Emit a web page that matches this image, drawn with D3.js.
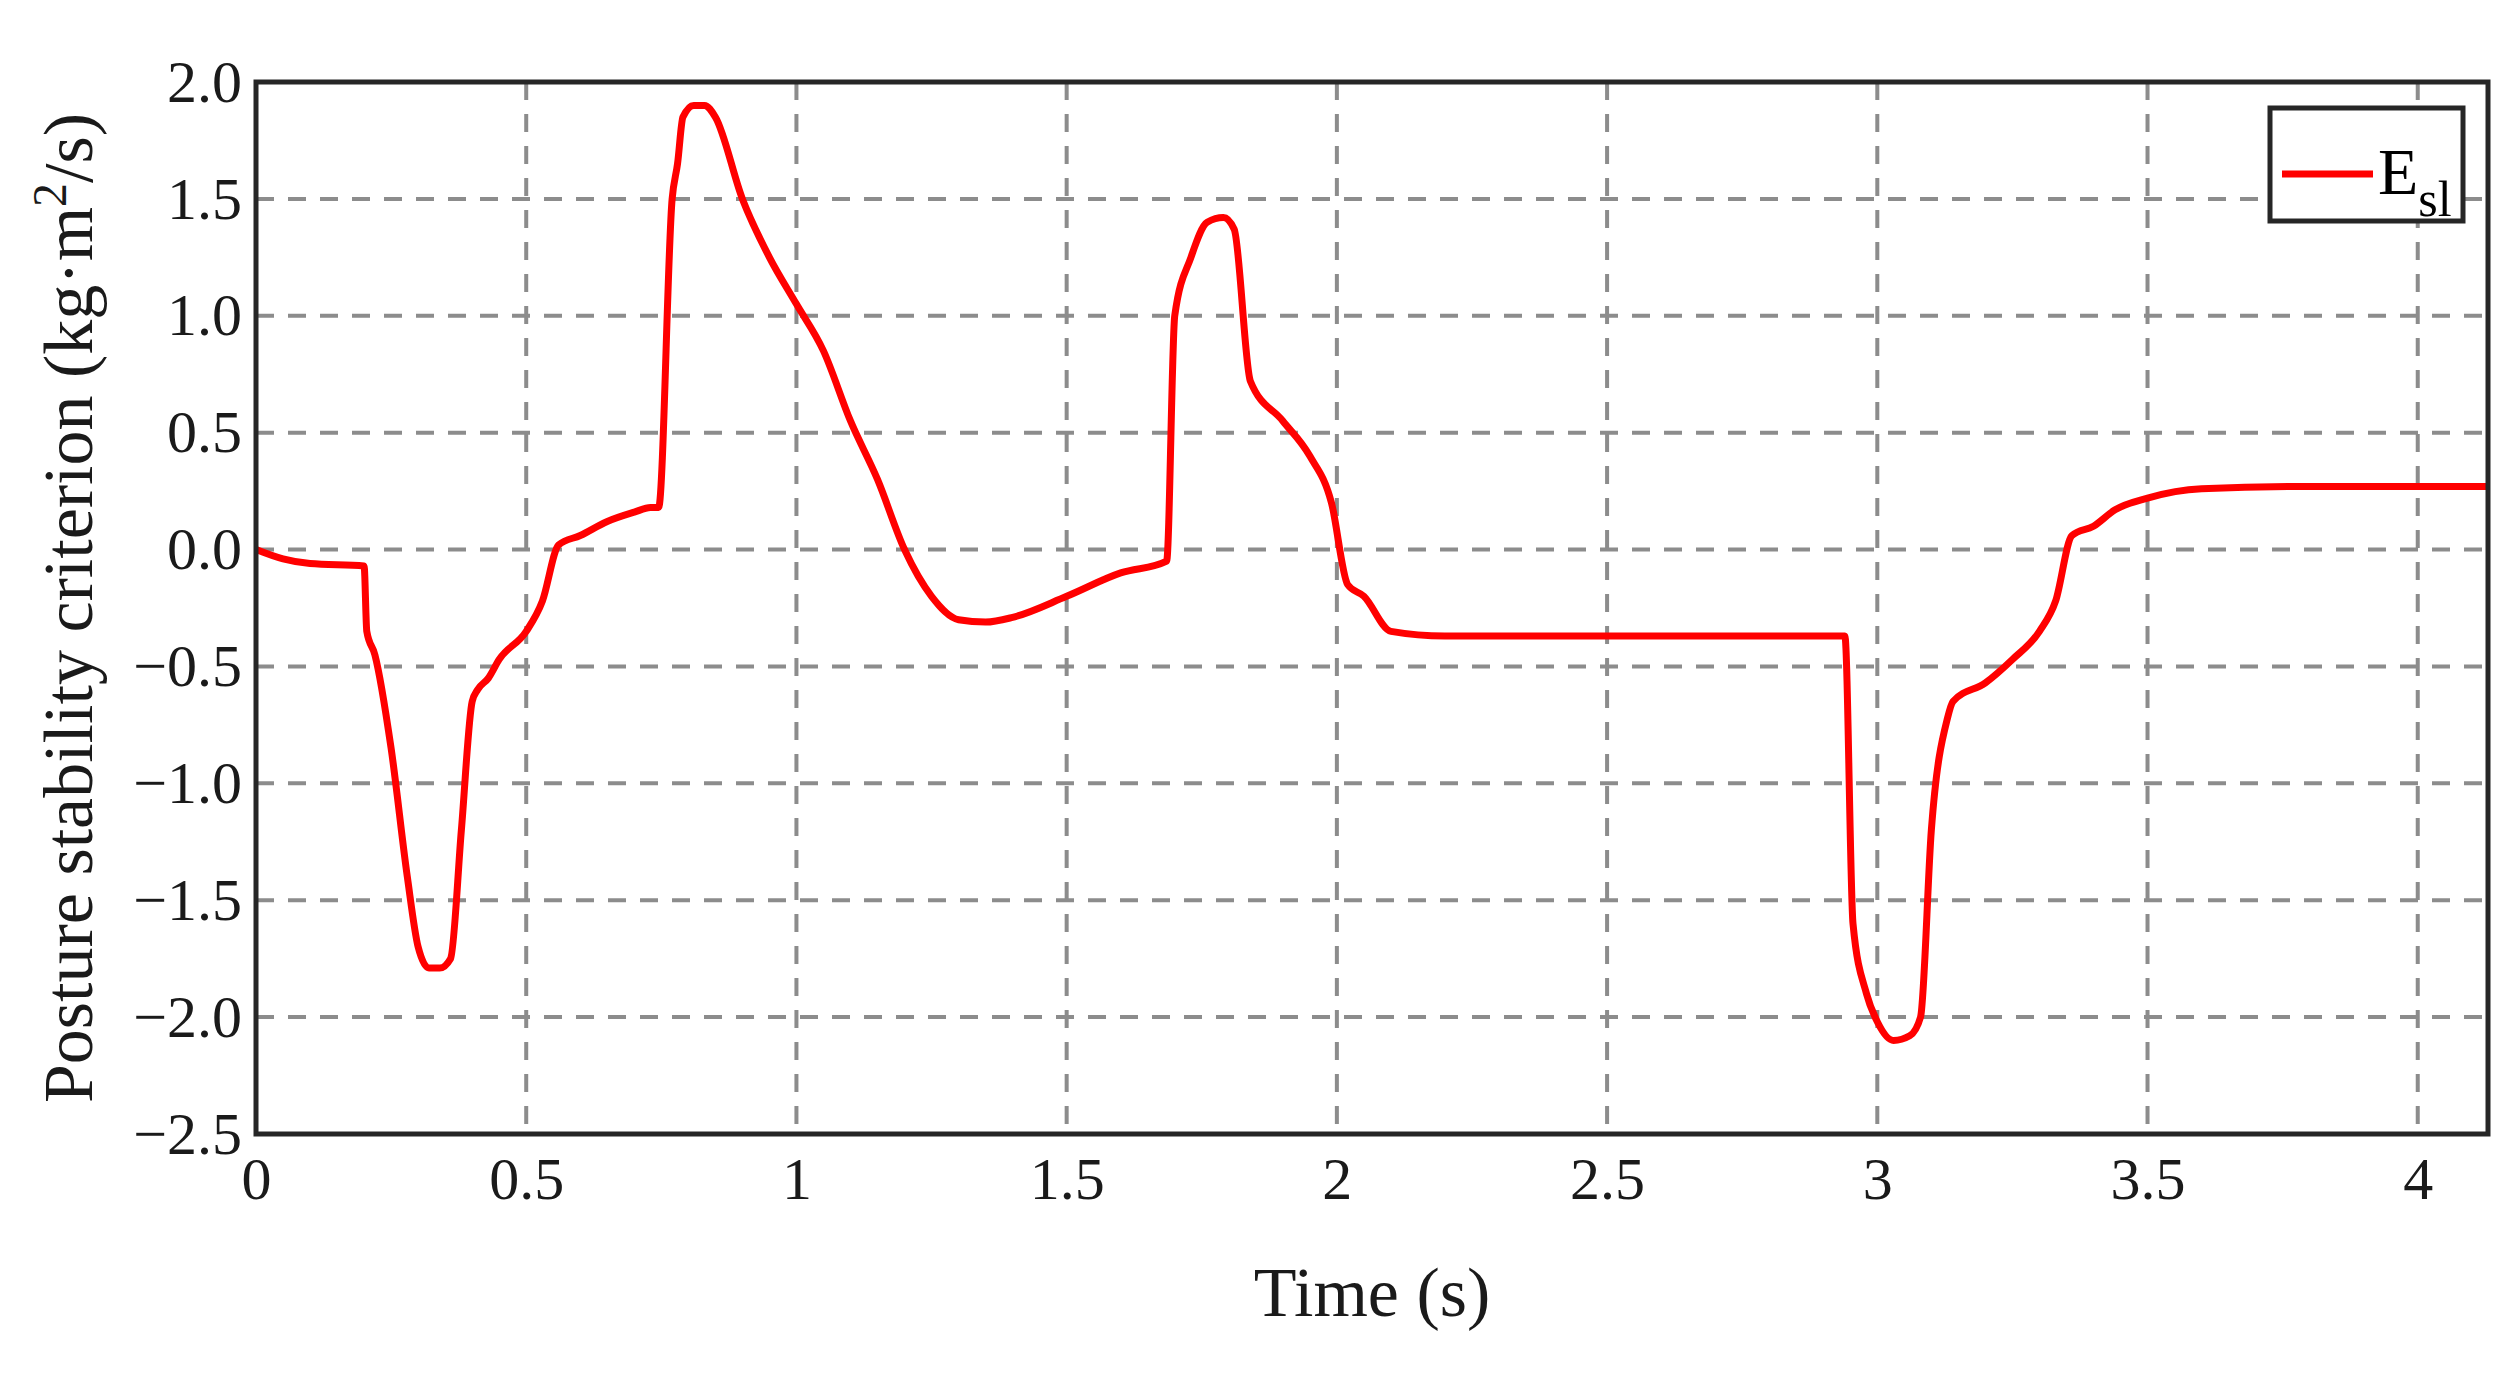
<!DOCTYPE html>
<html><head><meta charset="utf-8">
<script src="https://cdn.jsdelivr.net/npm/d3@7"></script>
<style>body{margin:0;background:#fff}</style></head>
<body><svg id="chart"></svg>
<script>
// values
const times  = [0,0.05,0.1,0.2,0.205,0.22,0.25,0.28,0.3,0.32,0.34,0.36,0.38,0.4,0.41,0.43,0.45,0.5,0.53,0.56,0.6,0.65,0.7,0.73,0.745,0.77,0.78,0.79,0.81,0.83,0.85,0.9,0.95,1.0,1.05,1.1,1.15,1.2,1.25,1.3,1.35,1.4,1.5,1.6,1.685,1.7,1.73,1.76,1.79,1.81,1.84,1.9,1.95,1.99,2.02,2.05,2.1,2.2,2.94,2.955,2.98,3.0,3.03,3.06,3.08,3.1,3.13,3.14,3.2,3.25,3.3,3.33,3.36,3.4,3.44,3.5,3.6,3.8,4.13];
const esl    = [0,-0.04,-0.06,-0.07,-0.35,-0.45,-0.85,-1.4,-1.7,-1.79,-1.79,-1.75,-1.2,-0.65,-0.6,-0.55,-0.47,-0.35,-0.22,0.02,0.06,0.12,0.16,0.18,0.18,1.5,1.65,1.85,1.9,1.9,1.85,1.5,1.25,1.05,0.85,0.55,0.3,0.0,-0.2,-0.3,-0.31,-0.29,-0.2,-0.1,-0.05,1.0,1.25,1.4,1.42,1.37,0.72,0.55,0.4,0.2,-0.15,-0.2,-0.35,-0.37,-0.37,-1.6,-1.9,-2.02,-2.1,-2.08,-2.0,-1.2,-0.72,-0.65,-0.57,-0.47,-0.35,-0.22,0.06,0.1,0.17,0.22,0.26,0.27,0.27];
const xTicks = [0,0.5,1,1.5,2,2.5,3,3.5,4];
const xTickLabels = ["0","0.5","1","1.5","2","2.5","3","3.5","4"];
const yTicks = [-2.5,-2,-1.5,-1,-0.5,0,0.5,1,1.5,2];

const W = 2520, H = 1374;
const margin = {top: 82, right: 32, bottom: 240, left: 256};
const width = W - margin.left - margin.right, height = H - margin.top - margin.bottom;
const font = "'Liberation Serif', 'DejaVu Serif', serif";

const svg = d3.select("#chart").attr("width", W).attr("height", H);
const g = svg.append("g").attr("transform", "translate(" + margin.left + "," + margin.top + ")");

const x = d3.scaleLinear().domain([0, 4.13]).range([0, width]);
const y = d3.scaleLinear().domain([-2.5, 2]).range([height, 0]);

// grid
g.append("g").selectAll("line").data(xTicks.slice(1)).join("line")
    .attr("x1", d => x(d)).attr("x2", d => x(d)).attr("y1", 0).attr("y2", height)
    .attr("stroke", "#8c8c8c").attr("stroke-width", 4).attr("stroke-dasharray", "18,14");
g.append("g").selectAll("line").data(yTicks.slice(1, -1)).join("line")
    .attr("x1", 0).attr("x2", width).attr("y1", d => y(d)).attr("y2", d => y(d))
    .attr("stroke", "#8c8c8c").attr("stroke-width", 4).attr("stroke-dasharray", "18,14");

// axes
const xAxis = g.append("g").attr("transform", "translate(0," + height + ")")
    .call(d3.axisBottom(x).tickValues(xTicks).tickFormat((d, i) => xTickLabels[i]).tickSize(0).tickPadding(22));
const yAxis = g.append("g")
    .call(d3.axisLeft(y).tickValues(yTicks).tickFormat(d3.format(".1f")).tickSize(0).tickPadding(14));
[xAxis, yAxis].forEach(a => {
    a.select(".domain").remove();
    a.selectAll("text").attr("font-family", font).attr("font-size", 60).attr("fill", "#1a1a1a");
});

// line
g.append("path").datum(times.map((t, i) => [t, esl[i]]))
    .attr("fill", "none").attr("stroke", "#ff0000").attr("stroke-width", 7)
    .attr("d", d3.line().curve(d3.curveMonotoneX).x(d => x(d[0])).y(d => y(d[1])));

// frame
g.append("rect").attr("width", width).attr("height", height)
    .attr("fill", "none").attr("stroke", "#262626").attr("stroke-width", 5);

// legend
const lg = g.append("g").attr("transform", "translate(" + (2270 - margin.left) + "," + (108 - margin.top) + ")");
lg.append("rect").attr("width", 193).attr("height", 113).attr("fill", "#fff")
    .attr("stroke", "#262626").attr("stroke-width", 5);
lg.append("line").attr("x1", 12).attr("x2", 103).attr("y1", 66).attr("y2", 66)
    .attr("stroke", "#ff0000").attr("stroke-width", 7);
const lt = lg.append("text").attr("x", 108).attr("y", 86).attr("font-family", font).attr("font-size", 66).attr("fill", "#000");
lt.append("tspan").text("E");
lt.append("tspan").attr("dy", 22).attr("font-size", 50).text("sl");

// axis titles
svg.append("text").attr("x", margin.left + width / 2).attr("y", 1316).attr("text-anchor", "middle")
    .attr("font-family", font).attr("font-size", 70).attr("fill", "#1a1a1a").text("Time (s)");
const yt = svg.append("text").attr("transform", "translate(92," + (margin.top + height / 2) + ") rotate(-90)")
    .attr("text-anchor", "middle").attr("font-family", font).attr("font-size", 70).attr("fill", "#1a1a1a");
yt.append("tspan").text("Posture stability criterion (kg·m");
yt.append("tspan").attr("dy", -26).attr("font-size", 48).text("2");
yt.append("tspan").attr("dy", 26).text("/s)");
</script></body></html>
